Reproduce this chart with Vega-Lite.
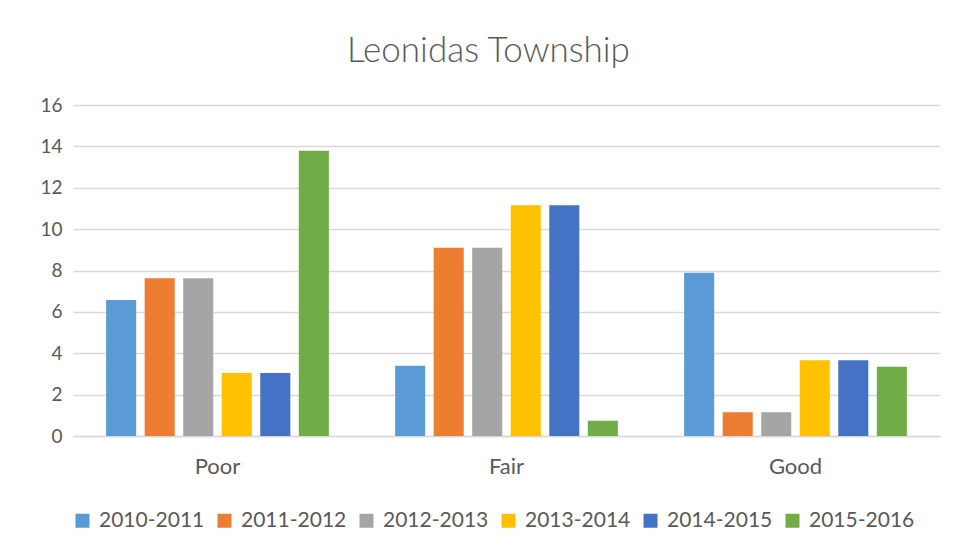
{
  "$schema": "https://vega.github.io/schema/vega-lite/v6.json",
  "width": 867,
  "height": 331,
  "autosize": {"type": "none"},
  "padding": {"left": 73, "top": 105, "right": 18, "bottom": 116},
  "background": "white",
  "title": {
    "text": "Leonidas Township",
    "font": "Lato",
    "fontSize": 35,
    "fontWeight": 300,
    "color": "#595959",
    "anchor": "middle",
    "dx": -18,
    "offset": 27
  },
  "config": {
    "font": "Lato",
    "view": {"stroke": null}
  },
  "data": {
    "values": [
      {"category": "Poor", "period": "2010-2011", "value": 6.58},
      {"category": "Poor", "period": "2011-2012", "value": 7.63},
      {"category": "Poor", "period": "2012-2013", "value": 7.63},
      {"category": "Poor", "period": "2013-2014", "value": 3.05},
      {"category": "Poor", "period": "2014-2015", "value": 3.05},
      {"category": "Poor", "period": "2015-2016", "value": 13.79},
      {"category": "Fair", "period": "2010-2011", "value": 3.4},
      {"category": "Fair", "period": "2011-2012", "value": 9.1},
      {"category": "Fair", "period": "2012-2013", "value": 9.1},
      {"category": "Fair", "period": "2013-2014", "value": 11.16},
      {"category": "Fair", "period": "2014-2015", "value": 11.16},
      {"category": "Fair", "period": "2015-2016", "value": 0.74},
      {"category": "Good", "period": "2010-2011", "value": 7.89},
      {"category": "Good", "period": "2011-2012", "value": 1.15},
      {"category": "Good", "period": "2012-2013", "value": 1.15},
      {"category": "Good", "period": "2013-2014", "value": 3.66},
      {"category": "Good", "period": "2014-2015", "value": 3.66},
      {"category": "Good", "period": "2015-2016", "value": 3.35}
    ]
  },
  "mark": {"type": "bar"},
  "encoding": {
    "x": {
      "field": "category",
      "type": "nominal",
      "sort": ["Poor", "Fair", "Good"],
      "scale": {"paddingInner": 0, "paddingOuter": 0},
      "axis": {
        "title": null,
        "labelAngle": 0,
        "labelFontSize": 22,
        "labelColor": "#595959",
        "labelPadding": 20,
        "ticks": false,
        "domainColor": "#d9d9d9",
        "domainWidth": 1.5,
        "grid": false
      }
    },
    "xOffset": {
      "field": "period",
      "type": "nominal",
      "scale": {"paddingInner": 0.22, "paddingOuter": 0.86}
    },
    "y": {
      "field": "value",
      "type": "quantitative",
      "scale": {"domain": [0, 16], "nice": false},
      "axis": {
        "title": null,
        "values": [0, 2, 4, 6, 8, 10, 12, 14, 16],
        "gridColor": "#d9d9d9",
        "gridWidth": 1.5,
        "domain": false,
        "ticks": false,
        "labelPadding": 11,
        "labelFontSize": 19,
        "labelColor": "#595959"
      }
    },
    "color": {
      "field": "period",
      "type": "nominal",
      "scale": {
        "domain": ["2010-2011", "2011-2012", "2012-2013", "2013-2014", "2014-2015", "2015-2016"],
        "range": ["#5B9BD5", "#ED7D31", "#A5A5A5", "#FFC000", "#4472C4", "#70AD47"]
      },
      "legend": {
        "title": null,
        "orient": "none",
        "direction": "horizontal",
        "legendX": -1,
        "legendY": 405,
        "symbolType": "square",
        "symbolSize": 196,
        "symbolStrokeWidth": 0,
        "labelFontSize": 21,
        "labelColor": "#595959",
        "labelOffset": 6,
        "columnPadding": 9
      }
    }
  }
}
